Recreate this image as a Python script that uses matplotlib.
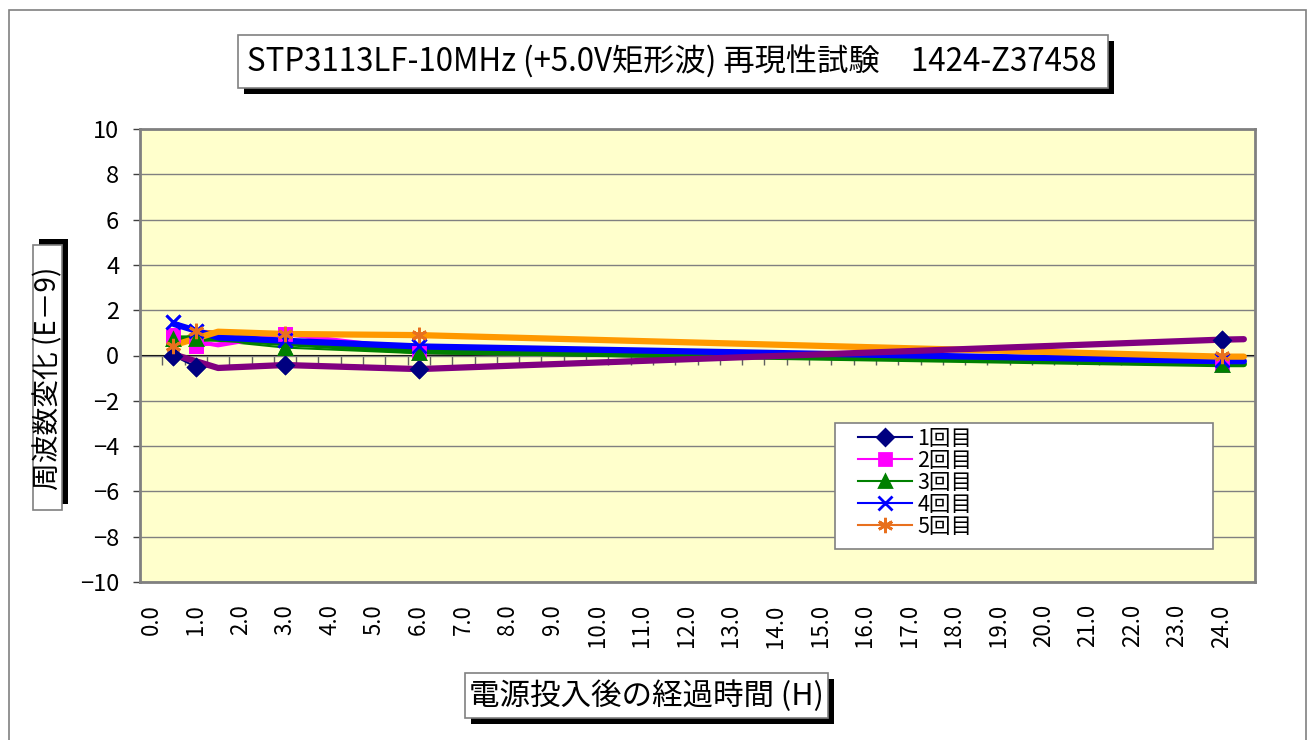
import matplotlib
matplotlib.use("Agg")
import matplotlib.pyplot as plt
from matplotlib.patches import Rectangle

plt.rcParams['font.family'] = ['Noto Sans CJK JP', 'DejaVu Sans']
plt.rcParams['axes.unicode_minus'] = True

# measured points (hours after power-on)
hours = [0.5, 1.0, 3.0, 6.0, 24.0]
run1 = [0.0, -0.5, -0.4, -0.6, 0.7]
run2 = [0.9, 0.4, 0.95, 0.1, -0.4]
run3 = [0.75, 0.75, 0.35, 0.1, -0.4]
run4 = [1.5, 1.1, 0.7, 0.4, -0.2]
run5 = [0.4, 1.1, 0.95, 0.9, 0.0]
run_labels = ['1回目', '2回目', '3回目', '4回目', '5回目']

# thick guide lines drawn on top of the points
guide_x = [0.5, 1.5, 3.0, 6.0, 24.0, 24.5]
guide1 = [0.05, -0.55, -0.42, -0.6, 0.7, 0.72]
guide2 = [0.8, 0.45, 0.95, 0.25, -0.35, -0.35]
guide3 = [0.75, 0.75, 0.55, 0.2, -0.38, -0.38]
guide4 = [1.4, 0.8, 0.65, 0.4, -0.25, -0.25]
guide5 = [0.45, 1.05, 0.95, 0.9, -0.05, -0.05]

xtick_vals = list(range(0, 25))
ytick_vals = list(range(-10, 11, 2))

W, H = 1310, 740
fig = plt.figure(figsize=(W / 100, H / 100), dpi=100)
fig.patch.set_facecolor('white')


def fig_box(x0, y0, x1, y1, **kw):
    # rectangle given in picture pixels (top-left origin)
    r = Rectangle((x0 / W, 1 - y1 / H), (x1 - x0) / W, (y1 - y0) / H,
                  transform=fig.transFigure, **kw)
    fig.patches.append(r)


fig_box(9, 10, 1306, 760, fill=False, edgecolor='#808080', lw=1.2)

ax = fig.add_axes([140 / W, 158 / H, 1115 / W, 453 / H])
ax.set_facecolor('#FFFFCC')
ax.set_xlim(-0.25, 24.75)
ax.set_ylim(-10, 10)

for s in ax.spines.values():
    s.set_color('#808080')
    s.set_linewidth(2)

ax.set_yticks(ytick_vals)
ax.set_yticklabels([('−%d' % -v) if v < 0 else str(v) for v in ytick_vals])
ax.tick_params(axis='y', direction='out', length=5, width=1, color='#404040',
               pad=10, labelsize=17)
ax.set_xticks(xtick_vals)
ax.set_xticklabels(['%.1f' % v for v in xtick_vals], rotation=90)
ax.tick_params(axis='x', length=0, pad=16, labelsize=16)
ax.grid(axis='y', color='#808080', lw=1)
ax.set_axisbelow(True)

# category axis crossing at zero
sec = ax.secondary_xaxis(0.5)
sec.set_xticks([0.25 + 0.5 * k for k in range(49)])
sec.set_xticklabels([])
sec.tick_params(direction='in', length=7, width=1, color='#606060')
sec.spines['bottom'].set_color('black')
sec.spines['bottom'].set_linewidth(1.5)

series = [run1, run2, run3, run4, run5]
colors = ['#000080', '#FF00FF', '#008000', '#0000FF', '#E8701E']
markers = ['D', 's', '^', 'x', (6, 2, 0)]
msizes = [8, 8, 9, 10, 11]
for ys, c, m, ms, lab in zip(series, colors, markers, msizes, run_labels):
    ax.plot(hours, ys, color=c, lw=1.5, marker=m, ms=ms, mew=2,
            mec=c, mfc=c, label=lab, zorder=3)

guides = [guide2, guide3, guide4, guide5, guide1]
gcolors = ['#FF00FF', '#008000', '#0000FF', '#FF9900', '#800080']
gwidths = [3, 4.5, 4.5, 4.5, 4.5]
for gy, c, w in zip(guides, gcolors, gwidths):
    ax.plot(guide_x, gy, color=c, lw=w, solid_capstyle='round', zorder=4)

for ys, c, m, ms in zip(series, colors, markers, msizes):
    ax.plot(hours, ys, ls='none', marker=m, ms=ms, mew=2, mec=c, mfc=c,
            zorder=5)

# legend frame drawn separately so its size matches the original
ax.add_patch(Rectangle((0.6233, 0.0728), 0.339, 0.278, transform=ax.transAxes,
                       facecolor='white', edgecolor='#808080', lw=1.2,
                       zorder=9))
leg = ax.legend(loc='upper left', bbox_to_anchor=(0.644, 0.341),
                fontsize=15.5, frameon=False, handlelength=2.5,
                handletextpad=0.25, labelspacing=0.0, borderpad=0,
                borderaxespad=0)
leg.set_zorder(10)

# title / axis label boxes with black drop shadow
fig_box(244, 41, 1114, 94, facecolor='black', edgecolor='none')
fig_box(238, 35, 1108, 88, facecolor='white', edgecolor='#808080', lw=1.2)
fig.text(672 / W, 1 - 62 / H, 'STP3113LF-10MHz (+5.0V矩形波) 再現性試験　1424-Z37458',
         ha='center', va='center', fontsize=22.5)

fig_box(39, 239, 68, 504, facecolor='black', edgecolor='none')
fig_box(33, 245, 62, 510, facecolor='white', edgecolor='#808080', lw=1.2)
fig.text(48 / W, 1 - 378 / H, '周波数変化 (E－9)', rotation=90,
         ha='center', va='center', fontsize=20)

fig_box(471, 679, 834, 724, facecolor='black', edgecolor='none')
fig_box(465, 673, 828, 718, facecolor='white', edgecolor='#808080', lw=1.2)
fig.text(646.5 / W, 1 - 696 / H, '電源投入後の経過時間 (H)',
         ha='center', va='center', fontsize=22)

fig.savefig('out.png', dpi=100)
